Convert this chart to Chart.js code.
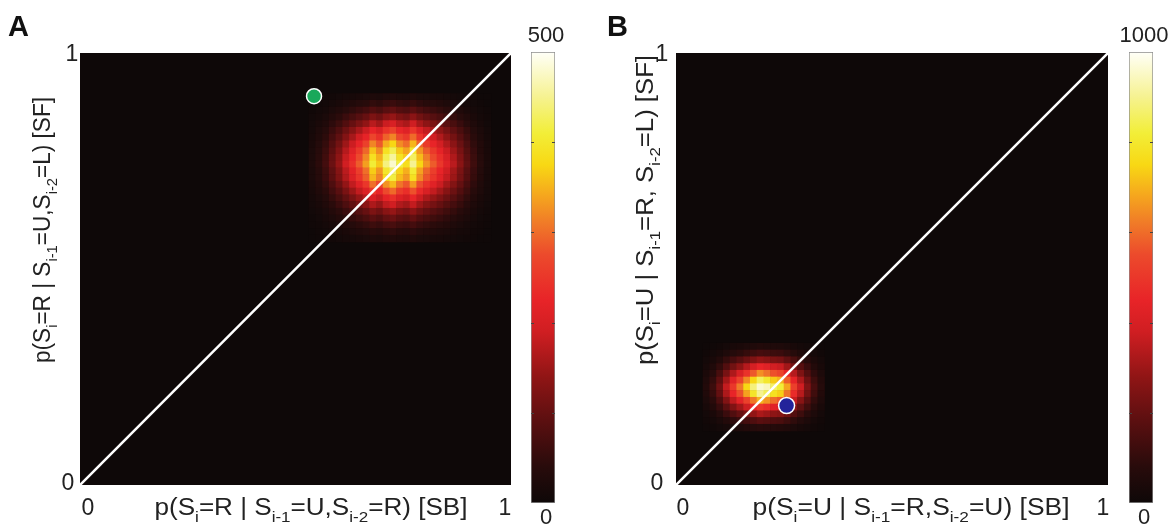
<!DOCTYPE html>
<html>
<head>
<meta charset="utf-8">
<script src="https://cdn.jsdelivr.net/npm/chart.js@4.4.0/dist/chart.umd.min.js"></script>
<style>
html,body{margin:0;padding:0;background:#fff;}
#wrap{position:relative;width:1175px;height:528px;overflow:hidden;background:#fff;}
canvas{position:absolute;top:0;}
</style>
</head>
<body>
<div id="wrap">
<canvas id="cA" width="520" height="528" style="left:0px"></canvas>
<canvas id="cbA" width="60" height="528" style="left:515px"></canvas>
<canvas id="cB" width="530" height="528" style="left:590px"></canvas>
<canvas id="cbB" width="60" height="528" style="left:1115px"></canvas>
</div>
<script>
// ---------------- DATA ----------------
const nBins = 64;                 // bins per axis of the 2-D histogram
const axisTicks = ['0', '1'];     // axis tick labels (values 0 and 1)
const colorbarA = ['0', '500'];
const colorbarB = ['0', '1000'];
const maxA = 500;
const maxB = 1000;

// Panel A histogram counts: rows from bin 57 (top) down to bin 36, columns from bin 34 to 60
const heatA_firstCol = 34;
const heatA_topRow = 57;
const heatA = [
 [1,3,4,6,9,12,14,17,20,24,22,27,29,25,23,27,22,20,17,15,13,10,8,6,4,2,1],
 [3,5,8,13,17,23,29,35,40,49,44,53,58,50,46,54,45,39,35,30,25,21,16,12,7,5,2],
 [5,9,13,21,29,38,48,58,67,82,73,88,96,83,77,90,75,65,58,50,42,35,27,19,12,8,4],
 [7,13,20,32,43,58,72,86,101,122,110,133,144,124,115,135,112,98,86,75,63,52,40,29,19,11,6],
 [10,18,28,45,60,81,101,121,141,171,153,186,202,173,161,189,157,137,121,105,89,73,56,40,26,16,8],
 [13,24,37,58,79,106,132,158,185,224,201,243,264,227,211,248,206,179,158,138,116,95,74,53,34,21,10],
 [16,28,44,70,95,127,158,190,222,269,241,292,317,273,253,298,247,215,190,165,139,114,88,63,41,25,13],
 [19,34,52,83,112,150,187,225,262,318,285,345,374,322,300,352,292,254,225,195,165,135,105,75,48,30,15],
 [21,38,59,93,127,169,211,253,296,359,321,389,422,363,338,397,329,287,253,220,186,152,118,84,55,33,17],
 [23,41,64,101,137,182,228,274,319,388,347,420,456,392,365,428,355,310,274,238,200,164,127,91,59,36,18],
 [24,43,67,106,144,192,240,288,336,408,365,442,480,413,384,451,374,326,288,250,211,173,134,96,62,38,19],
 [22,39,60,95,130,173,216,259,302,367,329,398,432,372,346,406,337,293,259,225,190,156,121,86,56,34,17],
 [21,37,58,91,124,165,206,248,289,351,314,380,413,355,330,388,322,280,248,215,181,149,115,83,53,33,16],
 [18,32,50,78,107,142,178,213,249,302,270,327,355,306,284,334,277,241,213,185,156,128,99,71,46,28,14],
 [15,27,42,66,89,119,149,179,208,253,226,274,298,256,238,280,232,202,179,155,131,107,83,60,38,24,12],
 [12,22,34,53,72,96,120,144,168,204,183,221,240,207,192,226,187,163,144,125,106,87,67,48,31,19,10],
 [10,17,27,42,58,77,96,115,134,163,146,177,192,165,154,180,150,130,115,100,84,69,54,38,25,15,8],
 [7,13,20,32,43,58,72,86,101,122,110,133,144,124,115,135,112,98,86,75,63,52,40,29,19,11,6],
 [5,9,15,23,32,42,53,63,74,90,80,97,106,91,84,99,82,72,63,55,46,38,29,21,14,8,4],
 [4,6,10,16,22,29,36,43,50,61,55,66,72,62,58,68,56,49,43,38,32,26,20,14,9,6,3],
 [2,4,7,11,14,19,24,29,34,41,37,44,48,41,38,45,37,33,29,25,21,17,13,10,6,4,2],
 [1,3,4,6,9,12,14,17,20,24,22,27,29,25,23,27,22,20,17,15,13,10,8,6,4,2,1]
];

// Panel B histogram counts: rows from bin 20 (top) down to bin 8, columns from bin 4 to 21
const heatB_firstCol = 4;
const heatB_topRow = 20;
const heatB = [
 [4,7,13,22,30,37,45,53,60,56,52,49,41,31,23,15,8,4],
 [8,17,31,50,70,87,105,123,140,132,120,115,95,73,53,35,20,10],
 [17,34,62,101,140,174,210,246,280,263,241,230,190,146,106,70,39,20],
 [27,54,99,162,225,279,338,396,450,423,387,369,306,234,171,113,63,32],
 [39,78,143,234,325,403,488,572,650,611,559,533,442,338,247,163,91,46],
 [51,102,187,306,425,527,638,748,850,799,731,697,578,442,323,213,119,60],
 [60,120,220,360,500,620,750,880,960,940,860,820,680,520,380,250,140,70],
 [54,108,198,324,450,558,675,792,900,846,774,738,612,468,342,225,126,63],
 [42,84,154,252,350,434,525,616,700,658,602,574,476,364,266,175,98,49],
 [30,60,110,180,250,310,375,440,500,470,430,410,340,260,190,125,70,35],
 [19,38,70,115,160,198,240,282,320,301,275,262,218,166,122,80,45,22],
 [11,22,40,65,90,112,135,158,180,169,155,148,122,94,68,45,25,13],
 [5,10,18,29,40,50,60,70,80,75,69,66,54,42,30,20,11,6]
];

// identity line and marker points
const diagonal = [{x:0, y:0}, {x:1, y:1}];
const pointA = [{x:0.543, y:0.900}];   // green marker
const pointB = [{x:0.256, y:0.184}];   // blue marker

// axis titles as [text, isSubscript] segments
const titleAx = [['p(S',0],['i',1],['=R | S',0],['i-1',1],['=U,S',0],['i-2',1],['=R) [SB]',0]];
const titleAy = [['p(S',0],['i',1],['=R | S',0],['i-1',1],['=U,S',0],['i-2',1],['=L) [SF]',0]];
const titleBx = [['p(S',0],['i',1],['=U | S',0],['i-1',1],['=R,S',0],['i-2',1],['=U) [SB]',0]];
const titleBy = [['p(S',0],['i',1],['=U | S',0],['i-1',1],['=R, S',0],['i-2',1],['=L) [SF]',0]];

// ---------------- STYLE ----------------
const FONT_FAMILY = '"Liberation Sans", Arial, Helvetica, sans-serif';
const MAIN_FONT = '23px ' + FONT_FAMILY;
const SUB_FONT = '15px ' + FONT_FAMILY;
const TEXT_COLOR = '#222';
const BG = '#0e0808';
const cmapStops = [
  [0.00, [14,8,8]],
  [0.08, [40,11,11]],
  [0.18, [90,15,16]],
  [0.28, [144,21,21]],
  [0.38, [208,30,34]],
  [0.45, [232,36,40]],
  [0.55, [236,74,44]],
  [0.62, [240,122,40]],
  [0.68, [245,165,30]],
  [0.75, [248,216,20]],
  [0.82, [242,238,56]],
  [0.90, [246,242,144]],
  [1.00, [255,255,248]]
];
function colorAt(f) {
  f = Math.max(0, Math.min(1, f));
  for (let i = 1; i < cmapStops.length; i++) {
    const [p1, c1] = cmapStops[i];
    const [p0, c0] = cmapStops[i-1];
    if (f <= p1) {
      const t = (f - p0) / (p1 - p0);
      const c = c0.map((v, k) => Math.round(v + (c1[k] - v) * t));
      return 'rgb(' + c.join(',') + ')';
    }
  }
  return 'rgb(255,255,248)';
}

function cells(rows, firstCol, topRow) {
  const pts = [];
  rows.forEach((row, i) => row.forEach((v, j) => {
    if (v > 0) pts.push({x: (firstCol + j + 0.5) / nBins, y: (topRow - i + 0.5) / nBins, v: v});
  }));
  return pts;
}

function drawRich(ctx, segs, cx, cy, target, rotate) {
  ctx.save();
  ctx.translate(cx, cy);
  if (rotate) ctx.rotate(-Math.PI / 2);
  let w = 0;
  segs.forEach(s => { ctx.font = s[1] ? SUB_FONT : MAIN_FONT; w += ctx.measureText(s[0]).width; });
  const sx = target ? target / w : 1;
  ctx.scale(sx, 1);
  ctx.fillStyle = TEXT_COLOR;
  ctx.textBaseline = 'alphabetic';
  ctx.textAlign = 'left';
  let x = -w / 2;
  segs.forEach(s => {
    ctx.font = s[1] ? SUB_FONT : MAIN_FONT;
    ctx.fillText(s[0], x, s[1] ? 7 : 0);
    x += ctx.measureText(s[0]).width;
  });
  ctx.restore();
}

function txt(ctx, s, x, y, font) {
  ctx.save();
  ctx.font = font || MAIN_FONT;
  ctx.fillStyle = TEXT_COLOR;
  ctx.textAlign = 'center';
  ctx.textBaseline = 'middle';
  ctx.fillText(s, x, y);
  ctx.restore();
}

const bgPlugin = {
  id: 'bg',
  beforeDatasetsDraw(chart) {
    const {ctx, chartArea: a} = chart;
    ctx.save();
    ctx.fillStyle = BG;
    ctx.fillRect(a.left, a.top, a.right - a.left, a.bottom - a.top);
    ctx.restore();
  }
};

function heatPanel(id, cfg) {
  const cellData = cells(cfg.rows, cfg.firstCol, cfg.topRow);
  const labelPlugin = {
    id: 'labels' + id,
    afterDraw(chart) {
      const {ctx, scales} = chart;
      const x0 = scales.x.getPixelForValue(0), x1 = scales.x.getPixelForValue(1);
      const y0 = scales.y.getPixelForValue(0), y1 = scales.y.getPixelForValue(1);
      ctx.save();
      ctx.font = 'bold 29px ' + FONT_FAMILY;
      ctx.fillStyle = '#111';
      ctx.textAlign = 'left';
      ctx.textBaseline = 'alphabetic';
      ctx.fillText(cfg.letter, cfg.letterX, 36);
      ctx.restore();
      txt(ctx, axisTicks[1], x0 - cfg.yTick1Dx, y1 + 2);
      txt(ctx, axisTicks[0], x0 - cfg.yTick0Dx, y0 - 1);
      txt(ctx, axisTicks[0], x0 + cfg.xTick0Dx, y0 + 24);
      txt(ctx, axisTicks[1], x1 - cfg.xTick1Dx, y0 + 24);
      drawRich(ctx, cfg.xTitle, cfg.xTitleC, y0 + 30, cfg.xTitleW, false);
      drawRich(ctx, cfg.yTitle, cfg.yTitleX, cfg.yTitleC, cfg.yTitleW, true);
    }
  };
  return new Chart(document.getElementById(id), {
    type: 'scatter',
    data: {
      datasets: [
        {data: cfg.point, pointRadius: cfg.pointR, backgroundColor: cfg.pointColor, borderColor: '#ffffff', borderWidth: 1.5, order: 1},
        {data: diagonal, showLine: true, borderColor: '#ffffff', borderWidth: 2.5, pointRadius: 0, order: 2},
        {data: cellData, pointStyle: 'rect', borderWidth: 0,
         pointRadius: (c) => { const a = c.chart.chartArea; if (!a) return 3; return ((a.right - a.left) / nBins + 0.6) / Math.SQRT2; },
         backgroundColor: (c) => colorAt(c.raw ? c.raw.v / cfg.max : 0), order: 3}
      ]
    },
    options: {
      responsive: false, animation: false, devicePixelRatio: 1, events: [],
      layout: {padding: cfg.padding},
      plugins: {legend: {display: false}, tooltip: {enabled: false}},
      scales: {
        x: {type: 'linear', min: 0, max: 1, display: false},
        y: {type: 'linear', min: 0, max: 1, display: false}
      }
    },
    plugins: [bgPlugin, labelPlugin]
  });
}

function colorbar(id, max, labels, padding) {
  const cbPlugin = {
    id: 'cb' + id,
    afterDatasetsDraw(chart) {
      const {ctx, chartArea: a, scales} = chart;
      ctx.save();
      ctx.strokeStyle = '#444';
      ctx.lineWidth = 1;
      [0.2, 0.4, 0.6, 0.8].forEach(f => {
        const y = Math.round(scales.y.getPixelForValue(f * max)) + 0.5;
        ctx.beginPath();
        ctx.moveTo(a.left, y); ctx.lineTo(a.left + 3, y);
        ctx.moveTo(a.right, y); ctx.lineTo(a.right - 3, y);
        ctx.stroke();
      });
      ctx.restore();
      const cx = (a.left + a.right) / 2 + 3;
      txt(ctx, labels[1], cx, scales.y.getPixelForValue(max) - 16, '22px ' + FONT_FAMILY);
      txt(ctx, labels[0], cx, scales.y.getPixelForValue(0) + 15, '22px ' + FONT_FAMILY);
    }
  };
  return new Chart(document.getElementById(id), {
    type: 'bar',
    data: {
      labels: [''],
      datasets: [{
        data: [[0, max]],
        backgroundColor: (c) => {
          const ch = c.chart;
          if (!ch.chartArea) return '#000';
          const y0 = ch.scales.y.getPixelForValue(0), y1 = ch.scales.y.getPixelForValue(max);
          const g = ch.ctx.createLinearGradient(0, y0, 0, y1);
          cmapStops.forEach(s => g.addColorStop(s[0], 'rgb(' + s[1].join(',') + ')'));
          return g;
        },
        borderColor: '#8c8c8c', borderWidth: 1, borderSkipped: false,
        barPercentage: 1, categoryPercentage: 1
      }]
    },
    options: {
      responsive: false, animation: false, devicePixelRatio: 1, events: [],
      layout: {padding: padding},
      plugins: {legend: {display: false}, tooltip: {enabled: false}},
      scales: {x: {display: false}, y: {display: false, min: 0, max: max}}
    },
    plugins: [cbPlugin]
  });
}

heatPanel('cA', {
  rows: heatA, firstCol: heatA_firstCol, topRow: heatA_topRow, max: maxA,
  point: pointA, pointR: 7.5, pointColor: '#1aa85a',
  padding: {left: 80, top: 53, right: 7, bottom: 43},
  letter: 'A', letterX: 8,
  yTick1Dx: 8, yTick0Dx: 12, xTick0Dx: 8, xTick1Dx: 6,
  xTitle: titleAx, xTitleC: 311, xTitleW: 313,
  yTitle: titleAy, yTitleX: 50, yTitleC: 230, yTitleW: 266
});
colorbar('cbA', maxA, colorbarA, {left: 16, right: 20, top: 52, bottom: 25});

heatPanel('cB', {
  rows: heatB, firstCol: heatB_firstCol, topRow: heatB_topRow, max: maxB,
  point: pointB, pointR: 8, pointColor: '#23239a',
  padding: {left: 86, top: 53, right: 12, bottom: 43},
  letter: 'B', letterX: 17,
  yTick1Dx: 14, yTick0Dx: 19, xTick0Dx: 7, xTick1Dx: 5,
  xTitle: titleBx, xTitleC: 321, xTitleW: 317,
  yTitle: titleBy, yTitleX: 63, yTitleC: 210, yTitleW: 310
});
colorbar('cbB', maxB, colorbarB, {left: 14, right: 22, top: 52, bottom: 25});
</script>
</body>
</html>
